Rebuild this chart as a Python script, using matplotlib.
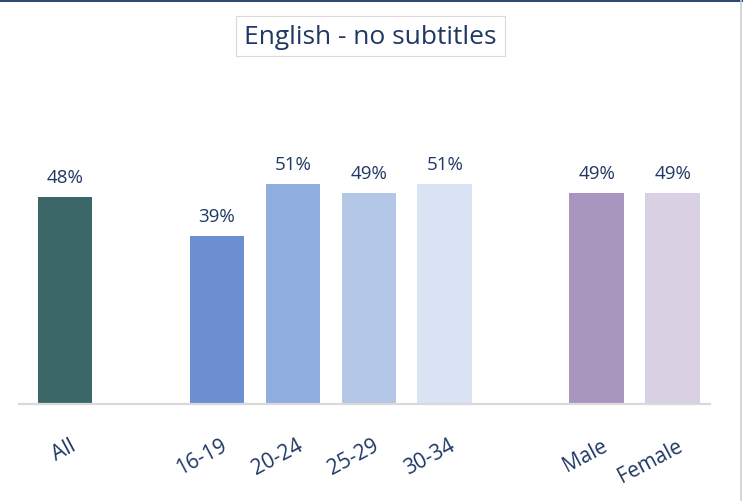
import matplotlib
matplotlib.use("Agg")
import matplotlib.pyplot as plt
from matplotlib.lines import Line2D
import matplotlib.transforms as mtransforms

categories = ["All", "16-19", "20-24", "25-29", "30-34", "Male", "Female"]
positions = [0, 2, 3, 4, 5, 7, 8]
values = [48, 39, 51, 49, 51, 49, 49]
colors = ["#3B6769", "#6B8FD1", "#8FADDE", "#B4C7E7", "#DAE3F3", "#A896BF", "#D9D0E3"]
title = "English - no subtitles"

navy = "#203864"
plt.rcParams["font.family"] = ["Open Sans", "DejaVu Sans"]

W, H = 743, 502
fig = plt.figure(figsize=(W / 100, H / 100), dpi=100)
ax_left, ax_right = 19, 710
ax_bottom, ax_top = 405, 100
ax = fig.add_axes([ax_left / W, (H - ax_bottom) / H, (ax_right - ax_left) / W, (ax_bottom - ax_top) / H])

bars = ax.bar(positions, values, width=0.72, color=colors, zorder=2)
for p, v in zip(positions, values):
    ax.annotate(f"{v}%", (p, v), xytext=(0, 8), textcoords="offset points",
                ha="center", va="bottom", fontsize=13.5, color=navy)

ax.set_xlim(-0.605, 8.49)
ax.set_ylim(0, 70.8)
ax.set_yticks([])
ax.set_xticks(positions)
ax.set_xticklabels(categories, rotation=28, ha="right", rotation_mode="anchor",
                   fontsize=15, color=navy)
ax.tick_params(axis="x", length=0, pad=22)
offset = mtransforms.ScaledTranslation(4 / 100, 0, fig.dpi_scale_trans)
for lbl in ax.get_xticklabels():
    lbl.set_transform(lbl.get_transform() + offset)
for s in ["top", "right", "left"]:
    ax.spines[s].set_visible(False)
ax.spines["bottom"].set_color("#D9D9D9")
ax.spines["bottom"].set_linewidth(1.6)

fig.text(370.5 / W, 1 - 37 / H, title, ha="center", va="center", fontsize=19, color=navy,
         bbox=dict(boxstyle="square,pad=0.3", fc="white", ec="#D9D9D9", lw=0.8))

fig.add_artist(Line2D([0, 1], [1 - 1 / H, 1 - 1 / H], transform=fig.transFigure, color="#2F4A73", lw=2.2))
fig.add_artist(Line2D([1 - 2 / W, 1 - 2 / W], [0, 1], transform=fig.transFigure, color="#C8CDD6", lw=1.2))

fig.savefig("out.png", dpi=100)
